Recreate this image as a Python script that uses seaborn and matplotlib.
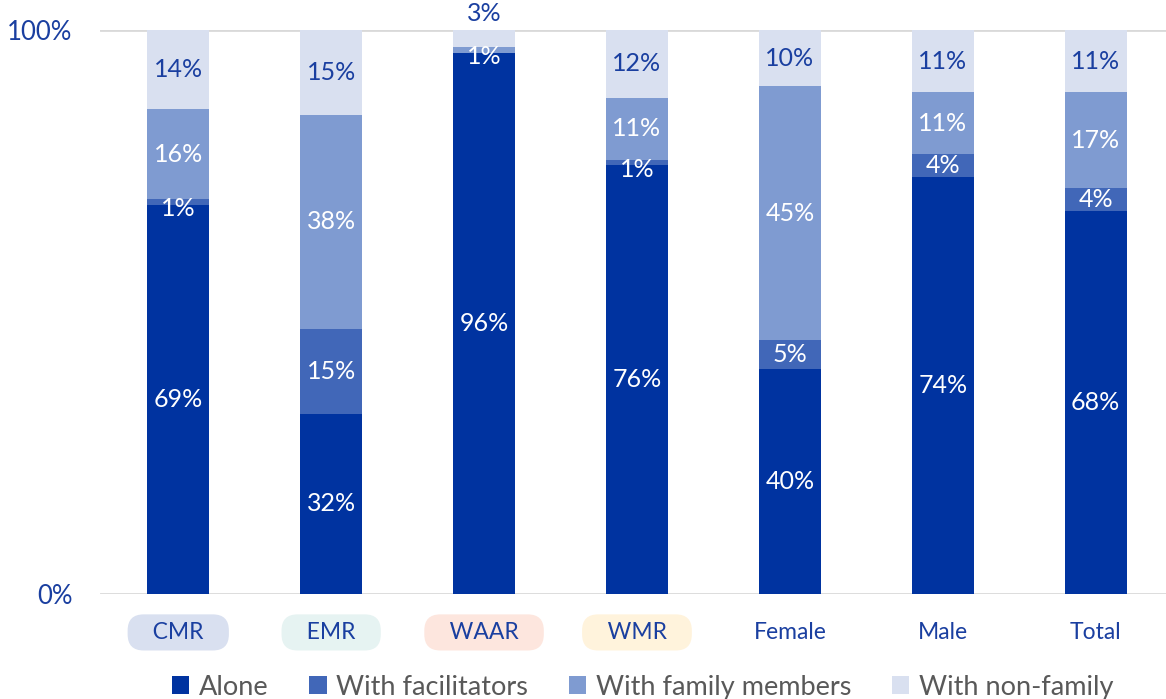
import numpy as np
import pandas as pd
import matplotlib.pyplot as plt
import seaborn as sns
from matplotlib.patches import Patch

# Data (percent)
groups = ['CMR', 'EMR', 'WAAR', 'WMR', 'Female', 'Male', 'Total']
alone = [69, 32, 96, 76, 40, 74, 68]
facilitators = [1, 15, 0, 1, 5, 4, 4]
family = [16, 38, 1, 11, 45, 11, 17]
non_family = [14, 15, 3, 12, 10, 11, 11]

series_names = ['Alone', 'With facilitators', 'With family members', 'With non-family']
colors = ['#0033a0', '#4167b8', '#7f9bd1', '#d9e0f0']
label_colors = ['white', 'white', 'white', '#1a3fa0']
tick_bg = ['#d9e0f0', '#e6f3f2', '#fde6de', '#fff3dc', None, None, None]
blue = '#1a3fa0'

sns.set_style('white')
plt.rcParams['font.family'] = ['Lato', 'DejaVu Sans']

df = pd.DataFrame({'group': groups, 'Alone': alone, 'With facilitators': facilitators,
                   'With family members': family, 'With non-family': non_family})
cum = df[series_names].cumsum(axis=1) / 100.0

fig = plt.figure(figsize=(11.66, 6.99), dpi=100)
ax = fig.add_axes([0.086, 0.150, 0.914, 0.807])

# draw cumulative bars from top layer down
for name, col in reversed(list(zip(series_names, colors))):
    sns.barplot(x=df['group'], y=cum[name], color=col, width=0.405,
                saturation=1, ax=ax, edgecolor='none', linewidth=0)

# segment labels
for i in range(len(groups)):
    base = 0.0
    for name, lc in zip(series_names, label_colors):
        v = df.loc[i, name]
        if v > 0:
            yc = base + v / 200.0
            if name == 'With non-family' and v < 5:
                ax.text(i, 1.03, f'{v}%', ha='center', va='center', color=blue, fontsize=18)
            else:
                if v <= 1:
                    yc -= 0.012
                ax.text(i, yc, f'{v}%', ha='center', va='center', color=lc, fontsize=18)
        base += v / 100.0

ax.set_xlim(-0.51, 6.46)
ax.set_ylim(0, 1)
ax.set_yticks([0, 1])
ax.set_yticklabels(['0%', '100%'], color=blue, fontsize=18.5)
ax.axhline(1, color='#d9d9d9', lw=2, zorder=0)
ax.axhline(0, color='#d9d9d9', lw=2, zorder=0)
for s in ax.spines.values():
    s.set_visible(False)
ax.tick_params(axis='y', length=0, pad=20)
ax.tick_params(axis='x', length=0, pad=20)
ax.set_xlabel('')
ax.set_ylabel('')
ax.set_xticks(range(len(groups)))
# pad text inside the rounded boxes
ax.set_xticklabels(['   ' + g + '   ' if bg else g for g, bg in zip(groups, tick_bg)],
                   color=blue, fontsize=16.5)
for lab, bg in zip(ax.get_xticklabels(), tick_bg):
    if bg:
        lab.set_bbox(dict(boxstyle='round,pad=0.33,rounding_size=0.7', fc=bg, ec='none'))

handles = [Patch(facecolor=c, edgecolor='none') for c in colors]
leg = fig.legend(handles, series_names, loc='lower center', bbox_to_anchor=(0.551, -0.036),
                 ncol=4, frameon=False, fontsize=19.5, handlelength=0.65, handleheight=0.65,
                 handletextpad=0.35, columnspacing=1.5)
for t in leg.get_texts():
    t.set_color('#595959')

fig.savefig('out.png', dpi=100)
